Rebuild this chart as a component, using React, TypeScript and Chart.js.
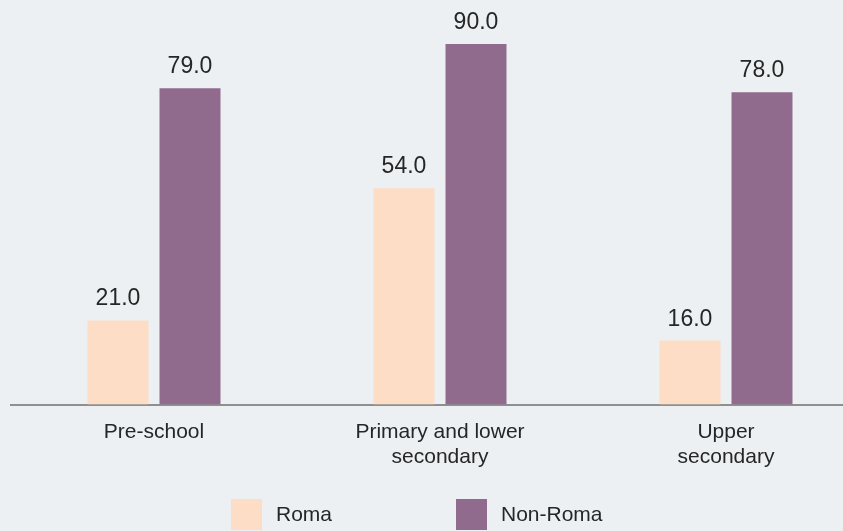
import { useEffect, useRef } from "react";
import { Chart, registerables } from "chart.js";

Chart.register(...registerables);

// School levels (multi-line tick labels)
const categories: string[][] = [
  ["Pre-school"],
  ["Primary and lower", "secondary"],
  ["Upper", "secondary"],
];

const seriesNames = ["Roma", "Non-Roma"];
const romaValues = [21.0, 54.0, 16.0];
const nonRomaValues = [79.0, 90.0, 78.0];
const seriesColors = ["#FDDDC6", "#906B8E"];

const FONT = "'Liberation Sans', Arial, Helvetica, sans-serif";
const TEXT = "#262626";
const BG = "#ECF0F3";

// Writes the value above each bar
const valueLabels = {
  id: "valueLabels",
  afterDatasetsDraw(chart: any) {
    const { ctx } = chart;
    ctx.save();
    ctx.font = `23px ${FONT}`;
    ctx.fillStyle = TEXT;
    ctx.textAlign = "center";
    ctx.textBaseline = "alphabetic";
    chart.data.datasets.forEach((ds: any, i: number) => {
      const meta = chart.getDatasetMeta(i);
      meta.data.forEach((bar: any, j: number) => {
        ctx.fillText(Number(ds.data[j]).toFixed(1), bar.x, bar.y - 15);
      });
    });
    ctx.restore();
  },
};

// Square-swatch legend under the axis labels
const swatchLegend = {
  id: "swatchLegend",
  afterDraw(chart: any, _args: any, opts: any) {
    const { ctx } = chart;
    const { x, y, size, step, textGap } = opts;
    ctx.save();
    ctx.font = `21px ${FONT}`;
    ctx.textAlign = "left";
    ctx.textBaseline = "middle";
    chart.data.datasets.forEach((ds: any, i: number) => {
      const bx = x + i * step;
      ctx.fillStyle = ds.backgroundColor;
      ctx.fillRect(bx, y, size, size);
      ctx.fillStyle = TEXT;
      ctx.fillText(ds.label, bx + size + textGap, y + size / 2 + 1);
    });
    ctx.restore();
  },
};

export default function App() {
  const canvasRef = useRef<HTMLCanvasElement | null>(null);

  useEffect(() => {
    if (!canvasRef.current) return;
    Chart.defaults.font.family = FONT;
    const chart = new Chart(canvasRef.current, {
      type: "bar",
      data: {
        labels: categories,
        datasets: [
          {
            label: seriesNames[0],
            data: romaValues,
            backgroundColor: seriesColors[0],
            borderWidth: 0,
          },
          {
            label: seriesNames[1],
            data: nonRomaValues,
            backgroundColor: seriesColors[1],
            borderWidth: 0,
          },
        ],
      },
      options: {
        responsive: false,
        animation: false,
        devicePixelRatio: 1,
        layout: { padding: { top: 4, left: 11, right: 11, bottom: 46 } },
        datasets: {
          bar: { categoryPercentage: 0.5035, barPercentage: 0.847 },
        },
        plugins: {
          legend: { display: false },
          tooltip: { enabled: false },
          swatchLegend: { x: 231, y: 499, size: 31, step: 225, textGap: 14 },
        } as any,
        scales: {
          x: {
            offset: true,
            z: 1,
            grid: { display: false, drawTicks: false },
            border: { display: true, color: "#8F8F8F", width: 2 },
            ticks: {
              color: TEXT,
              font: { size: 21, family: FONT },
              padding: 15,
              maxRotation: 0,
            },
          },
          y: {
            display: false,
            min: 0,
            max: 100,
          },
        },
      },
      plugins: [valueLabels, swatchLegend],
    });
    return () => chart.destroy();
  }, []);

  return (
    <div
      style={{
        position: "fixed",
        left: 0,
        top: 0,
        width: 843,
        height: 531,
        overflow: "hidden",
        background: BG,
      }}
    >
      <canvas
        ref={canvasRef}
        width={880}
        height={531}
        style={{ display: "block", width: 880, height: 531 }}
      />
    </div>
  );
}
